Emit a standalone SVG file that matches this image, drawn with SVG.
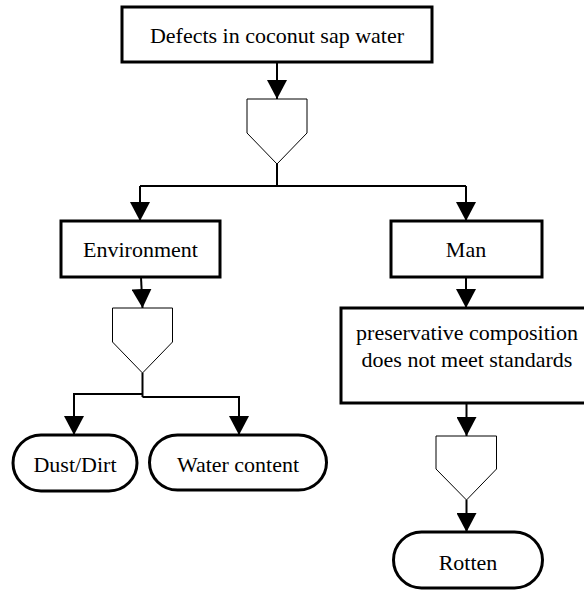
<svg xmlns="http://www.w3.org/2000/svg" width="584" height="590" viewBox="0 0 584 590">
<style>
.box{fill:#fff;stroke:#000;stroke-width:3}
.fun{fill:#fff;stroke:#000;stroke-width:1}
.con{fill:none;stroke:#000;stroke-width:2}
text{font-family:"Liberation Serif","Times New Roman",serif;font-size:22px;fill:#000;text-anchor:middle}
</style>
<defs>
<marker id="ah" markerUnits="userSpaceOnUse" markerWidth="19" markerHeight="20" viewBox="0 0 19 20" refX="19" refY="10" orient="auto">
<path d="M0,0 L19,10 L0,20 Z" fill="#000"/>
</marker>
</defs>
<rect width="584" height="590" fill="#fff"/>
<g id="connectors">
<path class="con" d="M277,62 V99" marker-end="url(#ah)"/>
<path class="con" d="M277,164 V186"/>
<path class="con" d="M140,186 H466"/>
<path class="con" d="M140,186 V221" marker-end="url(#ah)"/>
<path class="con" d="M466,186 V221" marker-end="url(#ah)"/>
<path class="con" d="M141,277 L142.5,308" marker-end="url(#ah)"/>
<path class="con" d="M142.5,373 V397"/>
<path class="con" d="M74,435 V394 H142.5"/>
<path class="con" d="M142.5,397 H239 V435" marker-end="url(#ah)"/>
<path class="con" d="M74,410 V435" marker-end="url(#ah)"/>
<path class="con" d="M466,277 V308" marker-end="url(#ah)"/>
<path class="con" d="M466.5,403 V436" marker-end="url(#ah)"/>
<path class="con" d="M466.5,500 V532" marker-end="url(#ah)"/>
</g>
<g id="defects">
<rect class="box" x="122" y="7" width="310" height="55"/>
<text x="277" y="42.5">Defects in coconut sap water</text>
</g>
<g id="merge1"><polygon class="fun" points="247,99 307,99 307,133 277,164 247,133"/></g>
<g id="environment">
<rect class="box" x="61" y="221" width="159" height="56"/>
<text x="140.5" y="257">Environment</text>
</g>
<g id="man">
<rect class="box" x="391" y="221" width="151" height="56"/>
<text x="466" y="257">Man</text>
</g>
<g id="merge2"><polygon class="fun" points="112.5,308 172.5,308 172.5,342 142.5,373 112.5,342"/></g>
<g id="preservative">
<rect class="box" x="341" y="308" width="252" height="95"/>
<text x="467" y="340">preservative composition</text>
<text x="467" y="367">does not meet standards</text>
</g>
<g id="dust">
<rect class="box" x="13" y="435" width="124" height="56" rx="28"/>
<text x="75" y="472">Dust/Dirt</text>
</g>
<g id="water">
<rect class="box" x="149.5" y="435" width="177" height="55" rx="28"/>
<text x="238" y="472">Water content</text>
</g>
<g id="merge3"><polygon class="fun" points="436,436 496.5,436 496.5,469 466.5,500 436,469"/></g>
<g id="rotten">
<rect class="box" x="393.5" y="532" width="149" height="56" rx="28"/>
<text x="468" y="570">Rotten</text>
</g>
</svg>
